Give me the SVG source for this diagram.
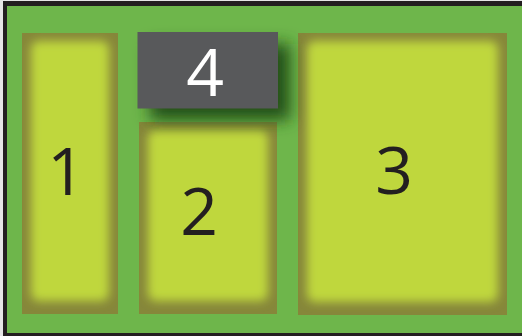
<svg xmlns="http://www.w3.org/2000/svg" width="522" height="336" viewBox="0 0 522 336">
<defs>
<style>
.lbl{font-family:"Open Sans","Liberation Sans",sans-serif;font-size:66px;text-anchor:middle;fill:#231f20}
.edge{fill:#86873a}
.face{fill:#bfd73c;filter:url(#soft)}
</style>
<filter id="soft" x="-20%" y="-20%" width="140%" height="140%"><feGaussianBlur stdDeviation="5"/></filter>
<filter id="drop" x="-40%" y="-40%" width="180%" height="180%"><feGaussianBlur stdDeviation="8"/></filter>
<clipPath id="c1"><rect x="22" y="33" width="96" height="281"/></clipPath>
<clipPath id="c2"><rect x="139" y="122" width="138" height="192"/></clipPath>
<clipPath id="c3"><rect x="298" y="33" width="209" height="282"/></clipPath>
</defs>
<rect width="522" height="336" fill="#e6e6e6"/>
<rect x="3" y="1" width="530" height="335" fill="#231f20"/>
<rect x="7" y="6" width="520" height="327" fill="#6eb64b"/>
<g id="node1">
<rect class="edge" x="22" y="33" width="96" height="281"/>
<g clip-path="url(#c1)"><rect class="face" x="31" y="41" width="78" height="260" rx="8"/></g>
<text class="lbl" x="66" y="195">1</text>
</g>
<g id="node2">
<rect class="edge" x="139" y="122" width="138" height="192"/>
<g clip-path="url(#c2)"><rect class="face" x="148" y="130" width="120" height="171" rx="8"/></g>
<text class="lbl" x="199" y="235">2</text>
</g>
<g id="node3">
<rect class="edge" x="298" y="33" width="209" height="282"/>
<g clip-path="url(#c3)"><rect class="face" x="307" y="41" width="191" height="261" rx="8"/></g>
<text class="lbl" x="394" y="194">3</text>
</g>
<g id="node4">
<rect x="150" y="44" width="140" height="76" fill="#234f19" filter="url(#drop)"/>
<rect x="137.5" y="32" width="140.5" height="76.5" fill="#58595b"/>
<text class="lbl" x="205" y="96" style="fill:#ffffff">4</text>
</g>
<g id="connectors"/>
</svg>
